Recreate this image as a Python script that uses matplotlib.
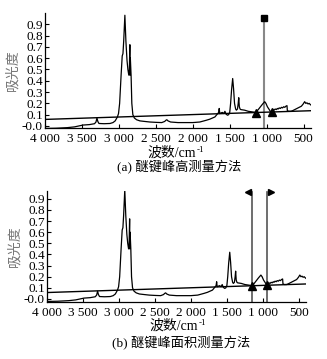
import matplotlib
matplotlib.use("Agg")
import matplotlib.pyplot as plt
import matplotlib.transforms as mtransforms
from matplotlib.offsetbox import TextArea, HPacker, AnchoredOffsetbox
import numpy as np

plt.rcParams['font.family'] = ['Liberation Serif', 'Noto Sans CJK SC', 'DejaVu Sans']

# Spectrum (wavenumber cm^-1, absorbance)
wavenumber = [4000, 3850, 3700, 3600, 3486, 3400, 3330, 3310, 3297, 3285, 3270, 3200, 3120,
              3080, 3050, 3020, 3005, 2990, 2970, 2955, 2945, 2935, 2919, 2905, 2890,
              2878, 2866, 2858, 2852, 2851, 2850, 2845, 2835, 2825, 2811, 2790, 2760,
              2716, 2650, 2580, 2500, 2420, 2380, 2365, 2351, 2335, 2300, 2200, 2100,
              2000, 1905, 1820, 1770, 1700, 1662, 1650, 1642, 1635, 1620, 1600, 1580,
              1565, 1550, 1530, 1515, 1500, 1488, 1475, 1460, 1448, 1435, 1420, 1410,
              1395, 1385, 1378, 1370, 1360, 1350, 1300, 1250, 1200, 1150, 1120, 1090,
              1060, 1040, 1027, 1010, 990, 970, 946, 930, 915, 900, 885, 870, 855, 845,
              830, 815, 800, 785, 770, 755, 740, 725, 720, 700, 670, 650, 620, 590, 560,
              530, 505, 486, 470, 455, 440, 425, 410, 400]
absorbance = [-0.022, -0.02, -0.015, -0.008, 0.008, 0.012, 0.02, 0.035, 0.07, 0.04, 0.022, 0.02, 0.022,
              0.03, 0.045, 0.08, 0.11, 0.2, 0.45, 0.62, 0.64, 0.75, 0.98, 0.75, 0.58,
              0.5, 0.45, 0.5, 0.72, 0.72, 0.45, 0.6, 0.45, 0.2, 0.1, 0.07, 0.055,
              0.045, 0.04, 0.035, 0.032, 0.03, 0.04, 0.05, 0.055, 0.045, 0.035, 0.03, 0.03,
              0.03, 0.035, 0.05, 0.06, 0.08, 0.11, 0.12, 0.155, 0.11, 0.115, 0.12, 0.11,
              0.13, 0.105, 0.095, 0.1, 0.12, 0.2, 0.32, 0.42, 0.33, 0.2, 0.15, 0.14,
              0.15, 0.2, 0.25, 0.17, 0.15, 0.145, 0.14, 0.13, 0.125, 0.12, 0.14, 0.165,
              0.19, 0.205, 0.215, 0.2, 0.17, 0.15, 0.125, 0.13, 0.145, 0.14, 0.15, 0.145, 0.155, 0.15,
              0.16, 0.155, 0.165, 0.16, 0.17, 0.165, 0.175, 0.18, 0.135, 0.13, 0.13, 0.135, 0.145, 0.155, 0.165,
              0.175, 0.195, 0.215, 0.2, 0.205, 0.195, 0.2, 0.19, 0.185]

# Baseline (straight line)
baseline_x = [4000, 400]
baseline_y = [0.058, 0.135]

# Measurement positions
peak_pos = 1030          # peak-height line
peak_top = 0.96
left_pos = 1150          # integration limits
right_pos = 940
flag_top = 0.965

xticks = [4000, 3500, 3000, 2500, 2000, 1500, 1000, 500]
xtick_labels = ['4 000', '3 500', '3 000', '2 500', '2 000', '1 500', '1 000', '500']
yticks = [0.0, 0.1, 0.2, 0.3, 0.4, 0.5, 0.6, 0.7, 0.8, 0.9]
ytick_labels = ['-0.0', '0.1', '0.2', '0.3', '0.4', '0.5', '0.6', '0.7', '0.8', '0.9']

ylabel = '吸光度'
xlabel_main = '波数/cm'
xlabel_sup = '-1'
captions = ['(a) 醚键峰高测量方法', '(b) 醚键峰面积测量方法']

W, H = 327, 359
fig = plt.figure(figsize=(W / 100, H / 100), dpi=100)

def rect(l, r, t, b):
    return [l / W, 1 - b / H, (r - l) / W, (b - t) / H]

def base_at(x):
    return np.interp(x, baseline_x[::-1], baseline_y[::-1])

def style(ax, ylim):
    ax.set_xlim(4000, 400)
    ax.set_ylim(*ylim)
    ax.set_xticks(xticks)
    ax.set_xticklabels(xtick_labels)
    ax.set_yticks(yticks)
    ax.set_yticklabels(ytick_labels)
    for s in ['top', 'right']:
        ax.spines[s].set_visible(False)
    for s in ['left', 'bottom']:
        ax.spines[s].set_linewidth(0.9)
    ax.tick_params(axis='both', direction='in', length=3, width=0.8, labelsize=9.5, pad=1.5)
    ax.tick_params(axis='x', pad=3.5)
    ax.set_ylabel(ylabel, fontsize=10, color='#777777', family=['Noto Sans CJK SC'], labelpad=2)

def add_xlabel(xc, yc):
    t1 = TextArea(xlabel_main, textprops=dict(fontsize=10,
                  family=['Liberation Serif', 'Noto Sans CJK SC']))
    t2 = TextArea(xlabel_sup, textprops=dict(fontsize=6.5, family=['Liberation Serif']))
    box = HPacker(children=[t1, t2], align='top', pad=0, sep=0.5)
    anch = AnchoredOffsetbox(loc='center', child=box, pad=0, frameon=False,
                             bbox_to_anchor=(xc / W, 1 - yc / H),
                             bbox_transform=fig.transFigure, borderpad=0)
    fig.add_artist(anch)

axes_rects = [rect(45, 311, 13, 128), rect(47, 306, 191, 302)]
ylims = [(-0.018, 1.0), (-0.027, 0.97)]

for i, (r, yl) in enumerate(zip(axes_rects, ylims)):
    ax = fig.add_axes(r)
    style(ax, yl)
    ax.plot(wavenumber, absorbance, color='black', lw=0.9, zorder=3, clip_on=True)
    ax.plot(baseline_x, baseline_y, color='black', lw=1.0, zorder=3)
    if i == 0:
        ax.plot([peak_pos, peak_pos], [yl[0], peak_top], color='#888888', lw=1.5, zorder=2)
        ax.plot([peak_pos], [peak_top], marker='s', color='black', ms=5, zorder=4, clip_on=False)
        ax.plot([left_pos, right_pos - 10], [base_at(left_pos), base_at(right_pos - 10)],
                ls='none', marker='^', color='black', ms=5.5, zorder=4)
    else:
        for pos in [left_pos, right_pos]:
            ax.plot([pos, pos], [yl[0], flag_top], color='#555555', lw=1.2, zorder=2)
        off_l = mtransforms.offset_copy(ax.transData, fig=fig, x=-3, y=0, units='points')
        off_r = mtransforms.offset_copy(ax.transData, fig=fig, x=3, y=0, units='points')
        ax.plot([left_pos], [flag_top], marker='<', color='black', ms=5, transform=off_l,
                clip_on=False, zorder=4)
        ax.plot([right_pos], [flag_top], marker='>', color='black', ms=5, transform=off_r,
                clip_on=False, zorder=4)
        ax.plot([left_pos, right_pos], [base_at(left_pos), base_at(right_pos)],
                ls='none', marker='^', color='black', ms=5.5, zorder=4)

add_xlabel(176, 153)
add_xlabel(178, 326)

fig.text(179 / W, 1 - 167 / H, captions[0], ha='center', va='center', fontsize=9.5,
         family=['Liberation Serif', 'Noto Sans CJK SC'])
fig.text(181 / W, 1 - 343 / H, captions[1], ha='center', va='center', fontsize=9.5,
         family=['Liberation Serif', 'Noto Sans CJK SC'])

fig.savefig('out.png', dpi=100)
